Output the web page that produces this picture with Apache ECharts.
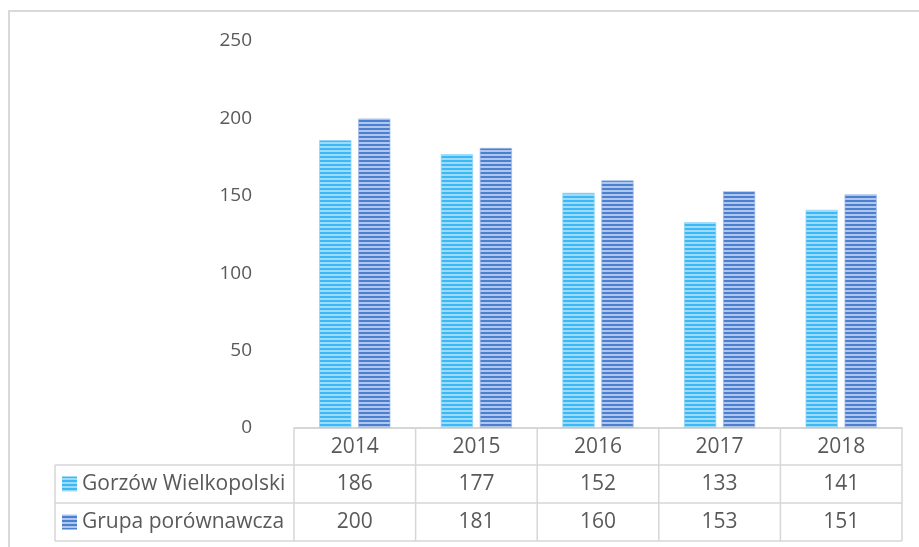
<!DOCTYPE html>
<html>
<head>
<meta charset="utf-8">
<script src="https://cdn.jsdelivr.net/npm/echarts@6/dist/echarts.min.js"></script>
<style>
  html, body { margin: 0; padding: 0; background: #ffffff; }
  #chart { width: 919px; height: 547px; }
</style>
</head>
<body>
<div id="chart"></div>
<script>
// Years on the category axis
const years = ['2014', '2015', '2016', '2017', '2018'];
// Series names and values
const seriesNames = ['Gorzów Wielkopolski', 'Grupa porównawcza'];
const gorzow = [186, 177, 152, 133, 141];
const grupa = [200, 181, 160, 153, 151];
// Value axis ticks
const yMin = 0;
const yMax = 250;
const yStep = 50;

const TEXT = '#595959';
const LINE = '#d6d6d6';

// Horizontal stripe fill used by the bars and the table keys
function stripes(base, light) {
  const c = document.createElement('canvas');
  c.width = 8; c.height = 4;
  const g = c.getContext('2d');
  g.fillStyle = base; g.fillRect(0, 0, 8, 4);
  g.fillStyle = light; g.fillRect(0, 2, 8, 2);
  return c;
}
const fillA = stripes('#3bb8f6', '#9edbfa');
const fillB = stripes('#4b80d0', '#b0c6ec');
const fills = [fillA, fillB];

const chart = echarts.init(document.getElementById('chart'), null, { renderer: 'canvas' });

chart.setOption({
  animation: false,
  backgroundColor: '#ffffff',
  grid: { left: 294, right: 17, top: 41, bottom: 119, containLabel: false },
  xAxis: {
    type: 'category',
    data: years,
    axisLine: { show: true, lineStyle: { color: LINE, width: 2 } },
    axisTick: { show: false },
    axisLabel: { show: false },
    splitLine: { show: false }
  },
  yAxis: {
    type: 'value',
    min: yMin, max: yMax, interval: yStep,
    axisLine: { show: false },
    axisTick: { show: false },
    splitLine: { show: false },
    axisLabel: {
      color: TEXT,
      fontFamily: '"Open Sans", sans-serif',
      fontSize: 19,
      margin: 42
    }
  },
  series: [
    {
      name: seriesNames[0], type: 'bar', data: gorzow,
      barWidth: '26.7%', barGap: '20%',
      itemStyle: { color: { image: fillA, repeat: 'repeat' }, borderColor: 'rgba(140,212,250,0.7)', borderWidth: 1 }
    },
    {
      name: seriesNames[1], type: 'bar', data: grupa,
      barWidth: '26.7%', barGap: '20%',
      itemStyle: { color: { image: fillB, repeat: 'repeat' }, borderColor: 'rgba(155,185,232,0.7)', borderWidth: 1 }
    }
  ]
});

// Data table under the plot, laid out on the category axis
function drawTable() {
  const p0 = chart.convertToPixel({ xAxisIndex: 0 }, 0);
  const p1 = chart.convertToPixel({ xAxisIndex: 0 }, 1);
  const band = p1 - p0;
  const left = p0 - band / 2;
  const right = left + band * years.length;
  const axisY = chart.convertToPixel({ yAxisIndex: 0 }, 0);
  const rowTop = [axisY + 1, axisY + 37, axisY + 75];
  const rowH = [36, 38, 38];
  const bottom = rowTop[2] + rowH[2];
  const labelLeft = 55;
  const els = [];
  const font = '21px "Open Sans", sans-serif';

  // outer frame of the chart area
  els.push({ type: 'rect', shape: { x: 9, y: 11, width: 1000, height: 1000 },
    style: { fill: null, stroke: '#d9d9d9', lineWidth: 2 }, z: 0 });

  const line = (x1, y1, x2, y2) => els.push({ type: 'line', shape: { x1, y1, x2, y2 },
    style: { stroke: LINE, lineWidth: 1.5 }, z: 10 });

  // horizontal rules
  line(labelLeft, rowTop[1], right, rowTop[1]);
  line(labelLeft, rowTop[2], right, rowTop[2]);
  line(labelLeft, bottom, right, bottom);
  // vertical rules
  for (let i = 0; i <= years.length; i++) {
    const x = left + band * i;
    line(x, rowTop[0], x, bottom);
  }
  line(labelLeft, rowTop[1], labelLeft, bottom);

  // header row with years
  years.forEach((y, i) => {
    els.push({ type: 'text', x: left + band * (i + 0.5), y: rowTop[0] + rowH[0] / 2,
      style: { text: y, font, fill: TEXT, align: 'center', verticalAlign: 'middle' }, z: 11 });
  });

  // value rows
  const rows = [gorzow, grupa];
  rows.forEach((vals, r) => {
    const cy = rowTop[r + 1] + rowH[r + 1] / 2;
    els.push({ type: 'rect', shape: { x: 62, y: cy - 7.5, width: 15, height: 15 },
      style: { fill: { image: fills[r], repeat: 'repeat' } }, z: 11 });
    els.push({ type: 'text', x: 82, y: cy,
      style: { text: seriesNames[r], font, fill: TEXT, align: 'left', verticalAlign: 'middle' }, z: 11 });
    vals.forEach((v, i) => {
      els.push({ type: 'text', x: left + band * (i + 0.5), y: cy,
        style: { text: String(v), font, fill: TEXT, align: 'center', verticalAlign: 'middle' }, z: 11 });
    });
  });

  chart.setOption({ graphic: { elements: els } });
}
drawTable();
</script>
</body>
</html>
